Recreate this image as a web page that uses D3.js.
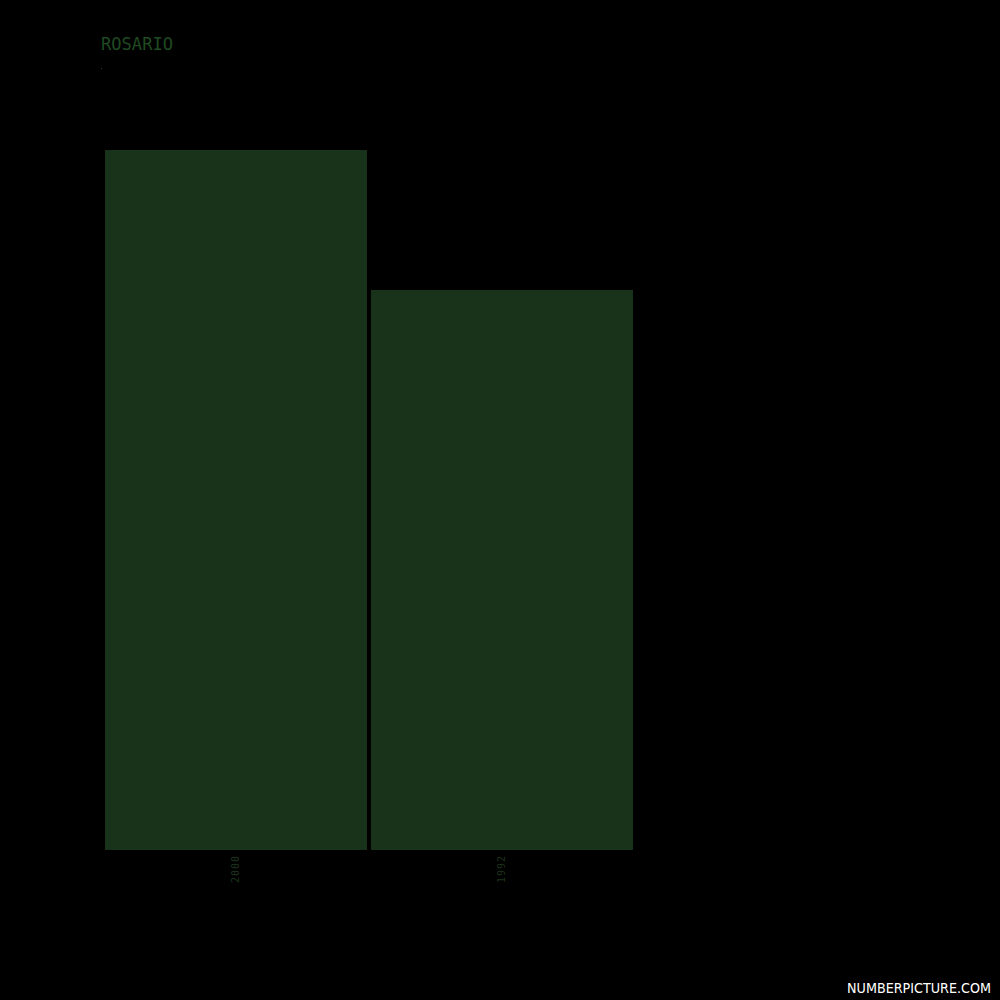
<!DOCTYPE html>
<html><head><meta charset="utf-8">
<script src="https://cdn.jsdelivr.net/npm/d3@7"></script>
<style>html,body{margin:0;padding:0;background:#000;}</style>
</head><body>
<script>
const categories = ["2000", "1992"];
const values = [100, 80];
const title = "ROSARIO";

const W = 1000, H = 1000;
const svg = d3.select("body").append("svg").attr("width", W).attr("height", H).style("background", "#000");
svg.append("rect").attr("width", W).attr("height", H).attr("fill", "#000");

const x = d3.scaleBand().domain(categories).range([105, 633]).paddingInner(4/266).paddingOuter(0);
const y = d3.scaleLinear().domain([0, 100]).range([850, 150]);

svg.selectAll("rect.bar").data(categories).enter().append("rect")
  .attr("class", "bar")
  .attr("x", d => x(d))
  .attr("width", x.bandwidth())
  .attr("y", (d, i) => y(values[i]))
  .attr("height", (d, i) => y(0) - y(values[i]))
  .attr("fill", "#19321a");

const ax = svg.append("g").attr("transform", "translate(0,850)")
  .call(d3.axisBottom(x).tickSize(0).tickPadding(0));
ax.select(".domain").remove();
ax.selectAll("text")
  .attr("transform", "rotate(-90)")
  .attr("x", -5).attr("y", -1).attr("dy", "0.35em")
  .attr("text-anchor", "end")
  .attr("fill", "#1c331c")
  .style("font-family", "'DejaVu Sans Mono', monospace")
  .style("font-size", "10px")
  .style("letter-spacing", "1px");

svg.append("text").attr("x", 101).attr("y", 50).text(title)
  .attr("fill", "#1f4a22")
  .attr("textLength", 72).attr("lengthAdjust", "spacingAndGlyphs")
  .style("font-family", "'DejaVu Sans Mono', monospace")
  .style("font-size", "17px");
svg.append("rect").attr("x", 101).attr("y", 68).attr("width", 1).attr("height", 1).attr("fill", "#1f4a22");

svg.append("text").attr("x", 847).attr("y", 993).text("NUMBERPICTURE.COM")
  .attr("fill", "#fff")
  .attr("textLength", 144).attr("lengthAdjust", "spacingAndGlyphs")
  .style("font-family", "'DejaVu Sans', sans-serif")
  .style("font-size", "14px");
</script>
</body></html>
